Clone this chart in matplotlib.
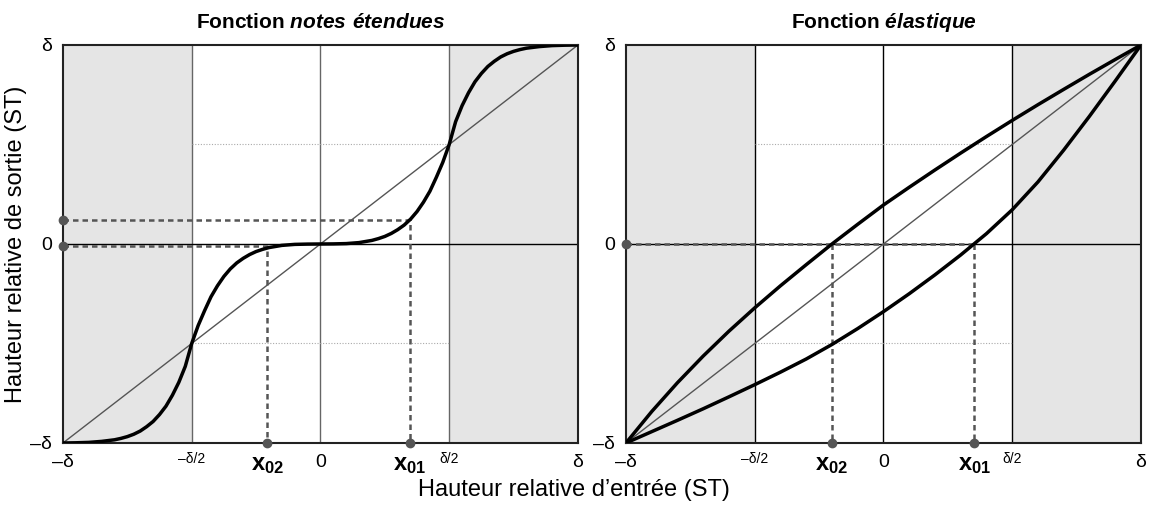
import numpy as np
import matplotlib
matplotlib.use("Agg")
import matplotlib.pyplot as plt

plt.rcParams['font.family'] = ['Liberation Sans', 'DejaVu Sans']
plt.rcParams['mathtext.fontset'] = 'custom'
plt.rcParams['mathtext.rm'] = 'Liberation Sans'
plt.rcParams['mathtext.bf'] = 'Liberation Sans:bold'
plt.rcParams['mathtext.bfit'] = 'Liberation Sans:italic:bold'

# courbe "notes etendues"
notes_x = [-1.0, -0.95, -0.9, -0.85, -0.8, -0.775, -0.75, -0.725, -0.7, -0.675, -0.65, -0.625,
           -0.6, -0.575, -0.55, -0.525, -0.5, -0.475, -0.45, -0.425, -0.4, -0.375, -0.35,
           -0.325, -0.3, -0.275, -0.25, -0.225, -0.2, -0.15, -0.1, -0.05,
           0.0, 0.05, 0.1, 0.15, 0.2, 0.225, 0.25, 0.275, 0.3, 0.325, 0.35, 0.375,
           0.4, 0.425, 0.45, 0.475, 0.5, 0.525, 0.55, 0.575, 0.6, 0.625, 0.65, 0.675,
           0.7, 0.725, 0.75, 0.775, 0.8, 0.85, 0.9, 0.95, 1.0]
notes_y = [-1.0, -0.999, -0.997, -0.992, -0.984, -0.977, -0.968, -0.956, -0.94, -0.918, -0.892, -0.857,
           -0.815, -0.76, -0.695, -0.615, -0.5, -0.41, -0.335, -0.265, -0.21, -0.163, -0.125,
           -0.095, -0.072, -0.053, -0.038, -0.027, -0.018, -0.007, -0.002, -0.0005,
           0.0, 0.0005, 0.002, 0.007, 0.018, 0.027, 0.038, 0.053, 0.072, 0.095, 0.125, 0.163,
           0.21, 0.265, 0.335, 0.41, 0.5, 0.615, 0.695, 0.76, 0.815, 0.857, 0.892, 0.918,
           0.94, 0.956, 0.968, 0.977, 0.984, 0.992, 0.997, 0.999, 1.0]

# courbes "elastique"
elas_x = [-1.0, -0.9, -0.8, -0.7, -0.6, -0.5, -0.4, -0.3, -0.2, -0.1, 0.0,
          0.1, 0.2, 0.3, 0.4, 0.5, 0.6, 0.7, 0.8, 0.9, 1.0]
elas_haut = [-1.0, -0.842, -0.697, -0.563, -0.438, -0.321, -0.21, -0.104, 0.0, 0.099, 0.196,
             0.285, 0.372, 0.457, 0.54, 0.621, 0.7, 0.777, 0.853, 0.927, 1.0]
elas_bas = [-1.0, -0.943, -0.886, -0.828, -0.768, -0.707, -0.644, -0.578, -0.505, -0.425, -0.34,
            -0.25, -0.155, -0.055, 0.052, 0.172, 0.312, 0.472, 0.642, 0.819, 1.0]

# points de lecture
notes_x01, notes_y01 = 0.346, 0.121
notes_x02, notes_y02 = -0.206, -0.01
elas_x01, elas_x02 = 0.353, -0.2

tick_pos = [-1, -0.5, 0, 0.5, 1]
tick_lab = ['–δ', '–δ/2', '0', 'δ/2', 'δ']

fig = plt.figure(figsize=(11.49, 5.16), dpi=100)
ax1 = fig.add_axes([0.0548, 0.1415, 0.4482, 0.7713])
ax2 = fig.add_axes([0.5448, 0.1415, 0.4482, 0.7713])

DASH = (0, (2.2, 1.6))
GREY = '#555555'


def cadre(ax, vcol):
    ax.set_xlim(-1, 1)
    ax.set_ylim(-1, 1)
    ax.axvspan(-1, -0.5, color='#e5e5e5', lw=0, zorder=0)
    ax.axvspan(0.5, 1, color='#e5e5e5', lw=0, zorder=0)
    for v in [-0.5, 0, 0.5]:
        ax.axvline(v, color=vcol, lw=1, zorder=1)
    for h in [-0.5, 0.5]:
        ax.plot([-0.5, 0.5], [h, h], color='#aaaaaa', lw=0.8, ls=(0, (1, 1.5)), zorder=1)
    ax.axhline(0, color='black', lw=1, zorder=1)
    ax.plot([-1, 1], [-1, 1], color=GREY, lw=1, zorder=2)
    for s in ax.spines.values():
        s.set_linewidth(1.5)
        s.set_color('#222222')
    ax.tick_params(length=0, pad=8, labelsize=14)
    ax.set_yticks([-1, 0, 1])
    ax.set_yticklabels(['–δ', '0', 'δ'])


def xticks(ax, x01, x02):
    pos = tick_pos + [x02, x01]
    ax.set_xticks(pos)
    ax.set_xticklabels(tick_lab + [r'$\mathbf{x_{02}}$', r'$\mathbf{x_{01}}$'])
    labs = ax.get_xticklabels()
    for lab, t in zip(labs, tick_lab + ['x02', 'x01']):
        if '/2' in t:
            lab.set_fontsize(10)
            lab.set_y(0.006)
        elif t.startswith('x'):
            lab.set_fontsize(17)


cadre(ax1, '#666666')
xticks(ax1, notes_x01, notes_x02)
ax1.plot(notes_x, notes_y, color='black', lw=2.5, zorder=4, solid_joinstyle='round')
ax1.plot([-1, notes_x01, notes_x01], [notes_y01, notes_y01, -1], color=GREY, lw=1.8, ls=DASH, zorder=3)
ax1.plot([-1, notes_x02, notes_x02], [notes_y02, notes_y02, -1], color=GREY, lw=1.8, ls=DASH, zorder=3)
ax1.plot([notes_x01, notes_x02, -1, -1], [-1, -1, notes_y01, notes_y02], 'o', color=GREY,
         ms=6, clip_on=False, zorder=5)
ax1.set_title(r'Fonction $\mathbfit{notes\ étendues}$', fontsize=15, fontweight='bold', pad=12)

cadre(ax2, 'black')
xticks(ax2, elas_x01, elas_x02)
ax2.plot(elas_x, elas_haut, color='black', lw=2.5, zorder=4, solid_joinstyle='round')
ax2.plot(elas_x, elas_bas, color='black', lw=2.5, zorder=4, solid_joinstyle='round')
ax2.plot([-1, elas_x01], [0, 0], color=GREY, lw=1.8, ls=DASH, zorder=3)
ax2.plot([elas_x01, elas_x01], [0, -1], color=GREY, lw=1.8, ls=DASH, zorder=3)
ax2.plot([elas_x02, elas_x02], [0, -1], color=GREY, lw=1.8, ls=DASH, zorder=3)
ax2.plot([elas_x01, elas_x02, -1], [-1, -1, 0], 'o', color=GREY, ms=6, clip_on=False, zorder=5)
ax2.set_title(r'Fonction $\mathbfit{élastique}$', fontsize=15, fontweight='bold', pad=12)

fig.text(0.0135, 0.527, 'Hauteur relative de sortie (ST)', rotation=90, fontsize=17,
         ha='center', va='center')
fig.text(0.4996, 0.05, 'Hauteur relative d’entrée (ST)', fontsize=17, ha='center', va='center')

fig.savefig('out.png', dpi=100)
